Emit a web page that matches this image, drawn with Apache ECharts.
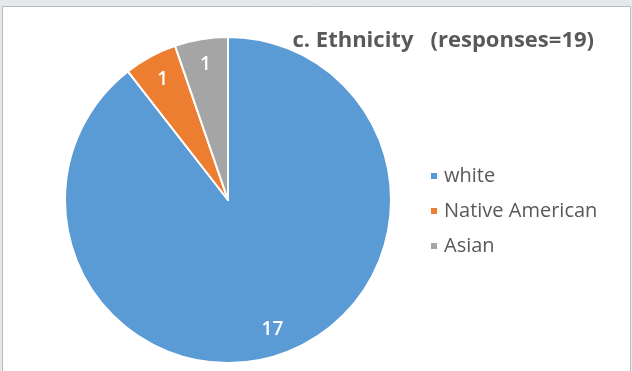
<!DOCTYPE html>
<html>
<head>
<meta charset="utf-8">
<style>
  html, body { margin: 0; padding: 0; background: #e4eaec; }
  #chart { width: 632px; height: 371px; }
</style>
<script src="https://cdn.jsdelivr.net/npm/echarts@6/dist/echarts.min.js"></script>
</head>
<body>
<div id="chart"></div>
<script>
const categories = ['white', 'Native American', 'Asian'];
const counts = [17, 1, 1];
const colors = ['#5b9bd5', '#ed7d31', '#a5a5a5'];
const titleText = 'c. Ethnicity   (responses=19)';

const chart = echarts.init(document.getElementById('chart'));
const pieData = categories.map((name, i) => ({ name, value: counts[i], itemStyle: { color: colors[i] } }));

chart.setOption({
  animation: false,
  backgroundColor: '#e4eaec',
  graphic: [{
    type: 'rect',
    shape: { x: 2.5, y: 6.5, width: 628, height: 370 },
    style: { fill: '#ffffff', stroke: '#b8bcbe', lineWidth: 1 },
    z: -10
  }],
  title: {
    text: titleText,
    right: 33,
    top: 25,
    textStyle: { fontFamily: 'Open Sans', fontWeight: 'bold', fontSize: 22, color: '#595959' }
  },
  legend: {
    orient: 'vertical',
    left: 424,
    top: 160,
    itemWidth: 8,
    itemHeight: 8,
    itemGap: 13,
    icon: 'rect',
    textStyle: { fontFamily: 'Open Sans', fontSize: 20, lineHeight: 22, color: '#595959', padding: [0, 0, 0, 1] },
    data: categories
  },
  series: [{
    type: 'pie',
    center: [228, 200],
    radius: [0, 163],
    startAngle: 90,
    clockwise: true,
    label: { show: false },
    labelLine: { show: false },
    itemStyle: { borderColor: '#ffffff', borderWidth: 2 },
    emphasis: { disabled: true },
    data: pieData
  }, {
    // transparent ring used only to place the value labels near the rim
    type: 'pie',
    center: [228, 200],
    radius: [108, 160],
    startAngle: 90,
    clockwise: true,
    silent: true,
    legendHoverLink: false,
    itemStyle: { color: 'rgba(0,0,0,0)' },
    label: {
      show: true,
      position: 'inside',
      formatter: '{c}',
      fontFamily: 'Open Sans',
      fontSize: 19,
      fontWeight: 600,
      color: '#ffffff'
    },
    labelLine: { show: false },
    emphasis: { disabled: true },
    data: categories.map((name, i) => ({ name, value: counts[i] }))
  }]
});
</script>
</body>
</html>
